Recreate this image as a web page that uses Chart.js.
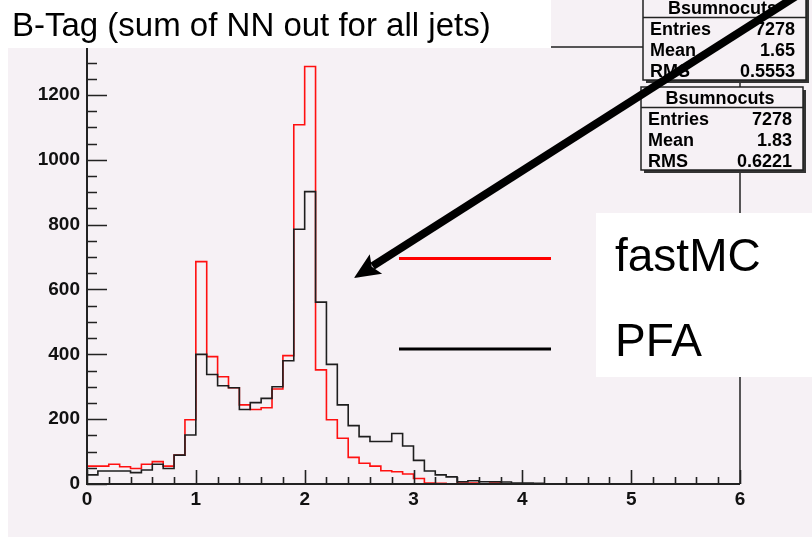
<!DOCTYPE html>
<html><head><meta charset="utf-8">
<script src="https://cdn.jsdelivr.net/npm/chart.js@4.4.0/dist/chart.umd.min.js"></script>
<style>html,body{margin:0;padding:0;background:#f6f1f5;}canvas{display:block}</style>
</head><body>
<div style="width:812px;height:537px;position:relative"><canvas id="c" width="812" height="537"></canvas></div>
<script>
// ---- data ----
const binStart = 0;
const binWidth = 0.1;
const fastMC = [55,55,61,53,48,61,69,55,89,198,
  686,393,331,297,244,230,235,293,396,1108,
  1288,352,198,141,82,64,55,41,38,31,
  17,3,2,1,3,3,1,3,0,0,
  0,0,0,0,0,0,0,0,0,0,
  0,0,0,0,0,0,0,0,0,0];
const pfa = [28,40,40,40,35,43,61,48,89,151,
  400,338,303,297,230,251,264,300,380,786,
  902,561,369,244,180,146,131,131,156,117,
  73,40,28,22,7,10,7,7,6,3,
  3,2,0,0,0,0,0,0,0,0,
  0,0,0,0,0,0,0,0,0,0];
const xTickLabels = [0,1,2,3,4,5,6];
const yTickLabels = [0,200,400,600,800,1000,1200];
const titleText = 'B-Tag (sum of NN out for all jets)';
const statName = 'Bsumnocuts';
const statEntries = ['7278','7278'];
const statMean = ['1.65','1.83'];
const statRMS = ['0.5553','0.6221'];
const legendLabels = ['fastMC','PFA'];

function toSteps(vals){
  const pts = vals.map((v,i)=>({x: binStart + i*binWidth, y: v}));
  pts.push({x: binStart + vals.length*binWidth, y: vals[vals.length-1]});
  return pts;
}

const BG = '#f6f1f5';
const AX = '#222';
const FONT = "'Liberation Sans', Arial, Helvetica, sans-serif";

const decor = {
  id:'decor',
  beforeDraw(chart){
    const ctx = chart.ctx;
    ctx.save();
    ctx.fillStyle = BG; ctx.fillRect(0,0,chart.width,chart.height);
    ctx.fillStyle = '#fff'; ctx.fillRect(0,0,8,chart.height);
    ctx.restore();
  },
  afterDatasetsDraw(chart){
    const ctx = chart.ctx, a = chart.chartArea;
    const xs = chart.scales.x, ys = chart.scales.y;
    ctx.save();
    ctx.strokeStyle = AX;
    ctx.lineWidth = 1.5;
    ctx.beginPath();
    ctx.moveTo(a.left, a.top); ctx.lineTo(a.right, a.top); ctx.lineTo(a.right, a.bottom);
    ctx.stroke();
    ctx.lineWidth = 2;
    ctx.beginPath();
    ctx.moveTo(a.left, a.top); ctx.lineTo(a.left, a.bottom); ctx.lineTo(a.right, a.bottom);
    ctx.stroke();
    ctx.lineWidth = 1.6;
    ctx.beginPath();
    for(let v=0; v<=ys.max; v+=50){
      const y = Math.round(ys.getPixelForValue(v))+0.5;
      const len = (v%200===0)?20:10;
      ctx.moveTo(a.left, y); ctx.lineTo(a.left+len, y);
    }
    for(let k=0; k<=30; k++){
      const v = k*0.2;
      const x = Math.round(xs.getPixelForValue(v))+0.5;
      const len = (k%5===0)?14:7;
      ctx.moveTo(x, a.bottom); ctx.lineTo(x, a.bottom-len);
    }
    ctx.stroke();
    ctx.restore();
  },
  afterDraw(chart){
    const ctx = chart.ctx;
    ctx.save();
    ctx.fillStyle = '#fff'; ctx.fillRect(0,0,551,48);
    ctx.fillStyle = '#000';
    ctx.font = `33px ${FONT}`;
    ctx.textBaseline = 'alphabetic'; ctx.textAlign = 'left';
    ctx.fillText(titleText, 12, 36);
    const boxes = [
      {x0:643, y0:-3, x1:806, y1:80},
      {x0:641, y0:87, x1:803, y1:170}
    ];
    boxes.forEach((b,i)=>{
      ctx.fillStyle = '#333';
      ctx.fillRect(b.x0+3, b.y0+3, b.x1-b.x0, b.y1-b.y0);
      ctx.fillStyle = BG;
      ctx.fillRect(b.x0, b.y0, b.x1-b.x0, b.y1-b.y0);
      ctx.strokeStyle = '#222'; ctx.lineWidth = 1.5;
      ctx.strokeRect(b.x0, b.y0, b.x1-b.x0, b.y1-b.y0);
      const hy = b.y0+20.5;
      ctx.beginPath(); ctx.moveTo(b.x0, hy); ctx.lineTo(b.x1, hy); ctx.stroke();
      ctx.fillStyle = '#000';
      ctx.font = `bold 18px ${FONT}`;
      ctx.textAlign = 'center';
      ctx.fillText(statName, (b.x0+b.x1)/2-2, b.y0+17);
      const rows = [['Entries',statEntries[i]],['Mean',statMean[i]],['RMS',statRMS[i]]];
      rows.forEach((r,j)=>{
        const by = b.y0 + 38 + j*21;
        ctx.textAlign='left'; ctx.fillText(r[0], b.x0+7, by);
        ctx.textAlign='right'; ctx.fillText(r[1], b.x1-11, by);
      });
    });
    ctx.fillStyle = '#fff'; ctx.fillRect(596,213,216,164);
    ctx.lineWidth = 3;
    ctx.strokeStyle = '#ff0000';
    ctx.beginPath(); ctx.moveTo(399,258.5); ctx.lineTo(551,258.5); ctx.stroke();
    ctx.strokeStyle = '#000';
    ctx.beginPath(); ctx.moveTo(399,349); ctx.lineTo(551,349); ctx.stroke();
    ctx.fillStyle = '#000';
    ctx.font = `46px ${FONT}`;
    ctx.textAlign = 'left';
    ctx.fillText(legendLabels[0], 615, 271);
    ctx.fillText(legendLabels[1], 615, 356);
    const S = {x:812, y:-14}, T = {x:354, y:278};
    const dx = T.x-S.x, dy = T.y-S.y, L = Math.hypot(dx,dy);
    const ux = dx/L, uy = dy/L, nx = -uy, ny = ux;
    const headLen = 26, headW = 11.5;
    const B = {x: T.x - ux*headLen, y: T.y - uy*headLen};
    ctx.strokeStyle = '#000'; ctx.lineWidth = 8; ctx.lineCap = 'butt';
    ctx.beginPath(); ctx.moveTo(S.x,S.y); ctx.lineTo(B.x+ux*4, B.y+uy*4); ctx.stroke();
    ctx.fillStyle = '#000';
    ctx.beginPath();
    ctx.moveTo(T.x,T.y);
    ctx.lineTo(B.x+nx*headW, B.y+ny*headW);
    ctx.lineTo(B.x+ux*5, B.y+uy*5);
    ctx.lineTo(B.x-nx*headW, B.y-ny*headW);
    ctx.closePath(); ctx.fill();
    ctx.restore();
  }
};

new Chart(document.getElementById('c'), {
  type:'line',
  data:{datasets:[
    {label:legendLabels[1], data:toSteps(pfa), stepped:'before', borderColor:'#1e1e1e', borderWidth:1.6, pointRadius:0, fill:false},
    {label:legendLabels[0], data:toSteps(fastMC), stepped:'before', borderColor:'#ff1010', borderWidth:1.6, pointRadius:0, fill:false}
  ]},
  options:{
    responsive:false, animation:false, devicePixelRatio:1,
    layout:{padding:{left:0, right:72, top:47, bottom:0}},
    plugins:{legend:{display:false}, tooltip:{enabled:false}},
    scales:{
      x:{type:'linear', min:0, max:6,
        afterBuildTicks:s=>{s.ticks = xTickLabels.map(v=>({value:v}));},
        grid:{display:false, drawTicks:false}, border:{display:false},
        ticks:{padding:4, color:'#111', maxRotation:0, autoSkip:false, callback:v=>String(v), font:{family:FONT, weight:'bold', size:19}},
        afterFit:s=>{s.height = 53;}
      },
      y:{type:'linear', min:0, max:1348,
        afterBuildTicks:s=>{s.ticks = yTickLabels.map(v=>({value:v}));},
        grid:{display:false, drawTicks:false}, border:{display:false},
        ticks:{padding:7, color:'#111', autoSkip:false, callback:v=>String(v), font:{family:FONT, weight:'bold', size:19}},
        afterFit:s=>{s.width = 87;}
      }
    }
  },
  plugins:[decor]
});
</script>
</body></html>
